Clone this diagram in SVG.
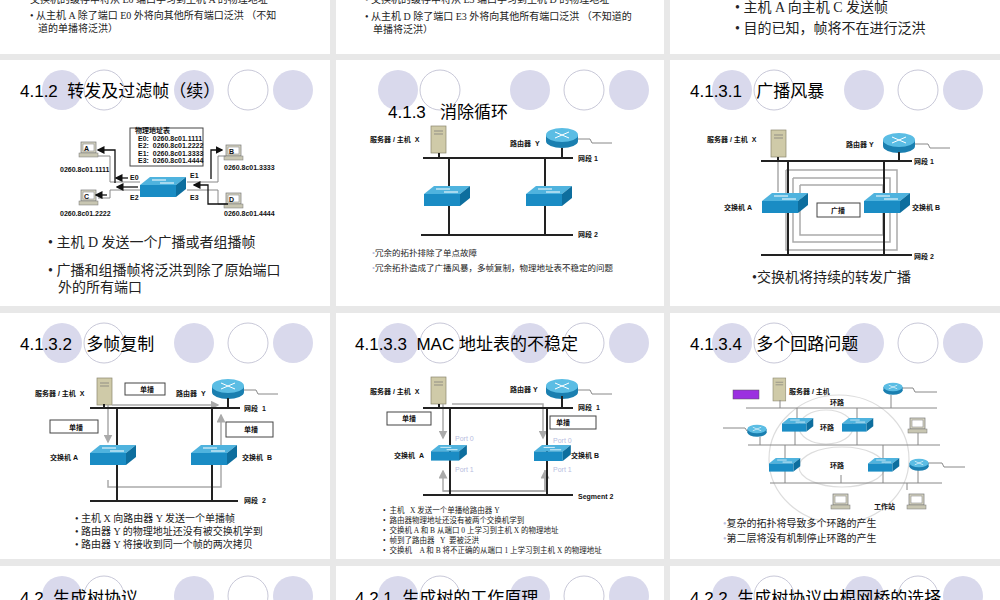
<svg xmlns="http://www.w3.org/2000/svg" xmlns:xlink="http://www.w3.org/1999/xlink" width="1000" height="600" viewBox="0 0 1000 600">
<style>
text{white-space:pre}
.p{fill:#fff}
.cf{fill:#d9d9ec}
.co{fill:#fff;stroke:#c8c8d8;stroke-width:1}
.t{font-family:"Liberation Sans","Noto Sans CJK SC",sans-serif;font-size:17px;fill:#000}
.b{font-family:"Liberation Serif","Noto Sans CJK SC",serif;fill:#222}
.s{font-family:"Liberation Sans","Noto Sans CJK SC",sans-serif;font-size:7px;font-weight:bold;fill:#111}
.net{stroke:#222;stroke-width:2;fill:none}
.thin{stroke:#888;stroke-width:1;fill:none}
.gl{stroke:#aaa;stroke-width:1.5;fill:none}
.box{fill:#fff;stroke:#444;stroke-width:1}
.port{font-family:"Liberation Sans",sans-serif;font-size:7px;fill:#b8bde0}
</style>
<defs>
<g id="sw"><polygon points="0,8 10,0 46,0 36,8" fill="#4fb3de"/><polygon points="0,8 36,8 36,20 0,20" fill="#1a8cc4"/><polygon points="36,8 46,0 46,12 36,20" fill="#0d6e9e"/><path d="M12,3h14M20,6h14" stroke="#fff" stroke-width="1"/></g>
<g id="rt"><ellipse cx="0" cy="6" rx="16" ry="7" fill="#1a7fb0"/><rect x="-16" y="0" width="32" height="6" fill="#1a7fb0"/><ellipse cx="0" cy="0" rx="16" ry="7" fill="#5bbde4"/><path d="M-7,-3l14,6M-7,3l14,-6" stroke="#fff" stroke-width="1"/></g>
<g id="sv"><rect x="0" y="0" width="15" height="27" fill="#cfcaa8" stroke="#8a876e" stroke-width="0.7"/><path d="M3,5h9M3,8h9" stroke="#777" stroke-width="0.7"/></g>
<g id="pc"><rect x="0" y="0" width="15" height="11" fill="#d8d6c4" stroke="#777" stroke-width="0.7"/><rect x="2" y="2" width="11" height="7" fill="#fff" stroke="#777" stroke-width="0.5"/><rect x="-2" y="11" width="19" height="4" fill="#c8c6b2" stroke="#777" stroke-width="0.5"/></g>
<g id="circ"><circle cx="62" cy="30" r="20" class="cf"/><circle cx="104" cy="30" r="20" class="co"/><circle cx="194" cy="30" r="20" class="cf"/><circle cx="248" cy="30" r="20" class="co"/><circle cx="293" cy="30" r="20" class="cf"/></g>
<marker id="ah" markerWidth="6" markerHeight="6" refX="5" refY="3" orient="auto"><path d="M0,0L6,3L0,6z" fill="#111"/></marker>
<marker id="ag" markerWidth="6" markerHeight="6" refX="5" refY="3" orient="auto"><path d="M0,0L6,3L0,6z" fill="#aaa"/></marker>
</defs>
<rect width="1000" height="600" fill="#e8e8e8"/>
<g id="r0">
<rect x="0" y="0" width="330" height="54" class="p"/><rect x="336" y="0" width="328" height="54" class="p"/><rect x="670" y="0" width="330" height="54" class="p"/>
<text class="b" font-size="10" x="30" y="3">交换机的缓存中将从 E0 端口学习到主机 A 的物理地址</text>
<text class="b" font-size="10" x="30" y="19">• 从主机 A 除了端口 E0 外将向其他所有端口泛洪 （不知</text>
<text class="b" font-size="10" x="38" y="32">道的单播将泛洪）</text>
<text class="b" font-size="10" x="365" y="3">• 交换机的缓存中将从 E3 端口学习到主机 D 的物理地址</text>
<text class="b" font-size="10" x="365" y="20">• 从主机 D 除了端口 E3 外将向其他所有端口泛洪 （不知道的</text>
<text class="b" font-size="10" x="373" y="33">单播将泛洪）</text>
<text class="b" font-size="14" x="735" y="12">• 主机 A 向主机 C 发送帧</text>
<text class="b" font-size="14" x="735" y="33">• 目的已知，帧将不在进行泛洪</text>
</g>
<g id="p412">
<rect x="0" y="60" width="330" height="246" class="p"/>
<use href="#circ" x="0" y="60"/>
<text class="t" x="20" y="97">4.1.2  转发及过滤帧（续）</text>
<rect x="130" y="128" width="73" height="38" class="box"/>
<text class="s" x="135" y="133" font-size="5">物理地址表</text>
<text class="s" x="138" y="141" font-size="6">E0:  0260.8c01.1111</text>
<text class="s" x="138" y="148" font-size="6">E2:  0260.8c01.2222</text>
<text class="s" x="138" y="156" font-size="6">E1:  0260.8c01.3333</text>
<text class="s" x="138" y="163" font-size="6">E3:  0260.8c01.4444</text>
<use href="#pc" x="81" y="142"/><text class="s" x="84" y="151" font-size="5">A</text>
<use href="#pc" x="226" y="145"/><text class="s" x="229" y="154" font-size="5">B</text>
<use href="#pc" x="81" y="190"/><text class="s" x="84" y="199" font-size="5">C</text>
<use href="#pc" x="226" y="193"/><text class="s" x="229" y="202" font-size="5">D</text>
<text class="s" x="60" y="172" font-size="6">0260.8c01.1111</text>
<text class="s" x="224" y="170" font-size="6">0260.8c01.3333</text>
<text class="s" x="60" y="216" font-size="6">0260.8c01.2222</text>
<text class="s" x="224" y="216" font-size="6">0260.8c01.4444</text>
<path class="thin" d="M98,156H110V182H140M98,198H110V190H140M187,182H218V156H226M187,190H218V204H226"/>
<path d="M115,183V150H98" stroke="#111" stroke-width="1.3" fill="none" marker-end="url(#ah)"/>
<path d="M128,178H116" stroke="#111" stroke-width="1.3" marker-end="url(#ah)"/>
<path d="M138,187H117" stroke="#111" stroke-width="1.3" marker-end="url(#ah)"/>
<path d="M107,195H96" stroke="#111" stroke-width="1.3" marker-end="url(#ah)"/>
<path d="M211,179V150H222" stroke="#111" stroke-width="1.3" fill="none" marker-end="url(#ah)"/>
<path d="M228,204H208V185H194" stroke="#111" stroke-width="1.3" fill="none" marker-end="url(#ah)"/>
<use href="#sw" x="140" y="177"/>
<text class="s" x="130" y="180" font-size="9" font-weight="normal">E0</text>
<text class="s" x="190" y="178" font-size="9" font-weight="normal">E1</text>
<text class="s" x="130" y="200" font-size="9" font-weight="normal">E2</text>
<text class="s" x="190" y="200" font-size="9" font-weight="normal">E3</text>
<text class="b" font-size="14" x="48" y="247">• 主机 D 发送一个广播或者组播帧</text>
<text class="b" font-size="14" x="48" y="275">• 广播和组播帧将泛洪到除了原始端口</text>
<text class="b" font-size="14" x="58" y="292">外的所有端口</text>
</g>
<g id="p413">
<rect x="336" y="60" width="328" height="246" class="p"/>
<use href="#circ" x="336" y="60"/>
<text class="t" x="388" y="118">4.1.3   消除循环</text>
<use href="#sv" x="431" y="126"/>
<text class="s" x="370" y="142">服务器 / 主机  X</text>
<use href="#rt" x="562" y="135"/>
<text class="s" x="510" y="146">路由器  Y</text>
<path class="thin" d="M578,139H590L592,143H612"/>
<path class="net" d="M423,158H573M449,158V235M545,158V235M439,153V158M562,148V158M421,235H573"/>
<use href="#sw" x="424" y="186"/><use href="#sw" x="526" y="186"/>
<text class="s" x="578" y="161">网段 1</text>
<text class="s" x="578" y="237">网段 2</text>
<text class="b" font-size="8.5" x="372" y="256" font-family="Liberation Sans,Noto Sans CJK SC,sans-serif"><tspan fill="#b8bde0">•</tspan>冗余的拓扑排除了单点故障</text>
<text class="b" font-size="8.5" x="372" y="271" font-family="Liberation Sans,Noto Sans CJK SC,sans-serif"><tspan fill="#b8bde0">•</tspan>冗余拓扑造成了广播风暴，多帧复制，物理地址表不稳定的问题</text>
</g>
<g id="p4131">
<rect x="670" y="60" width="330" height="246" class="p"/>
<use href="#circ" x="670" y="60"/>
<text class="t" x="690" y="97">4.1.3.1   广播风暴</text>
<use href="#sv" x="771" y="130"/>
<text class="s" x="707" y="142">服务器 / 主机  X</text>
<use href="#rt" x="899" y="140"/>
<text class="s" x="846" y="147">路由器 Y</text>
<path class="thin" d="M915,144H928L930,148H950"/>
<path class="gl" d="M778,157V192M786,170H897V250H786V170M793,178H890V242H793V178M800,185H883V235H800V185" />
<path class="net" d="M761,161H912M788,161V255M884,161V255M899,152V161M778,157V161M761,255H912"/>
<use href="#sw" x="762" y="193"/><use href="#sw" x="864" y="193"/>
<rect x="817" y="203" width="43" height="14" class="box" stroke="#888"/>
<text class="s" x="831" y="213">广播</text>
<text class="s" x="724" y="210">交换机 A</text>
<text class="s" x="912" y="210">交换机 B</text>
<text class="s" x="914" y="164">网段 1</text>
<text class="s" x="914" y="259">网段 2</text>
<text class="b" font-size="14" x="752" y="282" font-family="Liberation Sans,Noto Sans CJK SC,sans-serif">•交换机将持续的转发广播</text>
</g>
<g id="p4132">
<rect x="0" y="313" width="330" height="246" class="p"/>
<use href="#circ" x="0" y="313"/>
<text class="t" x="20" y="350">4.1.3.2   多帧复制</text>
<use href="#sv" x="97" y="378"/>
<text class="s" x="35" y="396">服务器 / 主机  X</text>
<rect x="125" y="383" width="40" height="12" class="box"/><text class="s" x="140" y="392">单播</text>
<text class="s" x="176" y="396">路由器  Y</text>
<use href="#rt" x="228" y="386"/>
<path class="thin" d="M244,390H256L258,394H278"/>
<path class="gl" d="M108,480V487H221V415" marker-end="url(#ag)"/>
<path class="gl" d="M112,405H218" marker-end="url(#ag)"/><path class="gl" d="M108,405V442" marker-end="url(#ag)"/>
<path class="net" d="M90,408H240M117,408V501M212,408V501M104,404V408M228,398V408M90,501H238"/>
<rect x="50" y="420" width="48" height="13" class="box"/><text class="s" x="69" y="430">单播</text>
<rect x="226" y="422" width="47" height="15" class="box"/><text class="s" x="244" y="432">单播</text>
<use href="#sw" x="90" y="445"/><use href="#sw" x="191" y="445"/>
<text class="s" x="50" y="460">交换机 A</text>
<text class="s" x="242" y="460">交换机  B</text>
<text class="s" x="244" y="411">网段  1</text>
<text class="s" x="244" y="503">网段  2</text>
<text class="b" font-size="10" x="75" y="522">• 主机 X 向路由器 Y 发送一个单播帧</text>
<text class="b" font-size="10" x="75" y="535">• 路由器 Y 的物理地址还没有被交换机学到</text>
<text class="b" font-size="10" x="75" y="548">• 路由器 Y 将接收到同一个帧的两次拷贝</text>
</g>
<g id="p4133">
<rect x="336" y="313" width="328" height="246" class="p"/>
<use href="#circ" x="336" y="313"/>
<text class="t" x="355" y="350">4.1.3.3  MAC 地址表的不稳定</text>
<use href="#sv" x="431" y="377"/>
<text class="s" x="370" y="394">服务器 / 主机  X</text>
<use href="#rt" x="562" y="386"/>
<text class="s" x="510" y="392">路由器 Y</text>
<path class="thin" d="M578,390H590L592,394H612"/>
<path class="gl" d="M443,404V438" marker-end="url(#ag)"/>
<path class="gl" d="M452,404H543V438" marker-end="url(#ag)"/>
<path class="gl" d="M545,470V491H443V471" marker-end="url(#ag)"/>
<path class="gl" d="M443,491H545V471" marker-end="url(#ag)"/>
<path class="net" d="M423,408H573M450,408V495M547,408V495M439,404V408M562,396V408M423,495H573"/>
<rect x="387" y="412" width="44" height="13" class="box"/><text class="s" x="402" y="421">单播</text>
<rect x="550" y="416" width="46" height="13" class="box"/><text class="s" x="556" y="425">单播</text>
<use href="#sw" x="431" y="445" transform="translate(431,445) scale(0.78) translate(-431,-445)"/>
<use href="#sw" x="534" y="445" transform="translate(534,445) scale(0.8) translate(-534,-445)"/>
<text class="port" x="455" y="441">Port 0</text><text class="port" x="455" y="472">Port 1</text>
<text class="port" x="553" y="443">Port 0</text><text class="port" x="553" y="472">Port 1</text>
<text class="s" x="394" y="458">交换机  A</text>
<text class="s" x="571" y="458">交换机 B</text>
<text class="s" x="578" y="410">网段  1</text>
<text class="s" x="578" y="499">Segment 2</text>
<text class="b" font-size="7.5" x="383" y="513">•  主机   X 发送一个单播给路由器 Y</text>
<text class="b" font-size="7.5" x="383" y="523">•  路由器物理地址还没有被两个交换机学到</text>
<text class="b" font-size="7.5" x="383" y="533">•  交换机 A 和 B 从端口 0 上学习到主机 X 的物理地址</text>
<text class="b" font-size="7.5" x="383" y="543">•  帧到了路由器   Y  要被泛洪</text>
<text class="b" font-size="7.5" x="383" y="553">•  交换机    A 和 B 将不正确的从端口 1 上学习到主机 X 的物理地址</text>
</g>
<g id="p4134">
<rect x="670" y="313" width="330" height="246" class="p"/>
<use href="#circ" x="670" y="313"/>
<text class="t" x="690" y="350">4.1.3.4   多个回路问题</text>
<ellipse cx="839" cy="459" rx="70" ry="64" fill="none" stroke="#ddd" stroke-width="1.2"/>
<ellipse cx="826" cy="427" rx="27" ry="17" fill="none" stroke="#ddd" stroke-width="1.2"/>
<ellipse cx="842" cy="467" rx="43" ry="20" fill="none" stroke="#ddd" stroke-width="1.2"/>
<rect x="733" y="390" width="26" height="9" fill="#9b30e0" stroke="#555" stroke-width="0.5"/>
<use href="#sv" x="773" y="378" transform="translate(773,378) scale(0.85) translate(-773,-378)"/>
<text class="s" x="789" y="394" font-size="5">服务器 / 主机</text>
<path class="thin" stroke="#777" d="M746,408H937M748,445H940M770,483H942M780,400V408M891,395V408M760,437V445M918,470V483M797,408V418M857,408V418M795,431V445M857,431V445M785,445V458M883,445V458M785,470V483M883,470V483M918,430V445M841,475V483M907,490V483"/>
<path class="thin" d="M723,428H745L747,431H752M900,388H913L915,392H937M928,463H942L944,467H965"/>
<use href="#rt" x="893" y="387" transform="translate(893,387) scale(0.6) translate(-893,-387)"/>
<use href="#rt" x="757" y="429" transform="translate(757,429) scale(0.6) translate(-757,-429)"/>
<use href="#rt" x="919" y="463" transform="translate(919,463) scale(0.6) translate(-919,-463)"/>
<use href="#sw" x="782" y="418" transform="translate(782,418) scale(0.68) translate(-782,-418)"/>
<use href="#sw" x="842" y="418" transform="translate(842,418) scale(0.68) translate(-842,-418)"/>
<use href="#sw" x="769" y="458" transform="translate(769,458) scale(0.68) translate(-769,-458)"/>
<use href="#sw" x="868" y="458" transform="translate(868,458) scale(0.68) translate(-868,-458)"/>
<use href="#pc" x="910" y="418"/>
<use href="#pc" x="833" y="494"/>
<use href="#pc" x="909" y="494"/>
<text class="s" x="830" y="405">环路</text>
<text class="s" x="820" y="430">环路</text>
<text class="s" x="830" y="468">环路</text>
<text class="s" x="874" y="509" font-size="5">工作站</text>
<text class="b" font-size="10" x="723" y="527" font-family="Liberation Sans,Noto Sans CJK SC,sans-serif"><tspan fill="#b8bde0">•</tspan>复杂的拓扑将导致多个环路的产生</text>
<text class="b" font-size="10" x="723" y="542" font-family="Liberation Sans,Noto Sans CJK SC,sans-serif"><tspan fill="#b8bde0">•</tspan>第二层将没有机制停止环路的产生</text>
</g>
<g id="r3">
<rect x="0" y="566" width="330" height="40" class="p"/><rect x="336" y="566" width="328" height="40" class="p"/><rect x="670" y="566" width="330" height="40" class="p"/>
<use href="#circ" x="0" y="566"/><use href="#circ" x="336" y="566"/><use href="#circ" x="670" y="566"/>
<text class="t" x="20" y="604">4.2  生成树协议</text>
<text class="t" x="355" y="604">4.2.1  生成树的工作原理</text>
<text class="t" x="690" y="604">4.2.2  生成树协议中根网桥的选择</text>
</g>
</svg>
